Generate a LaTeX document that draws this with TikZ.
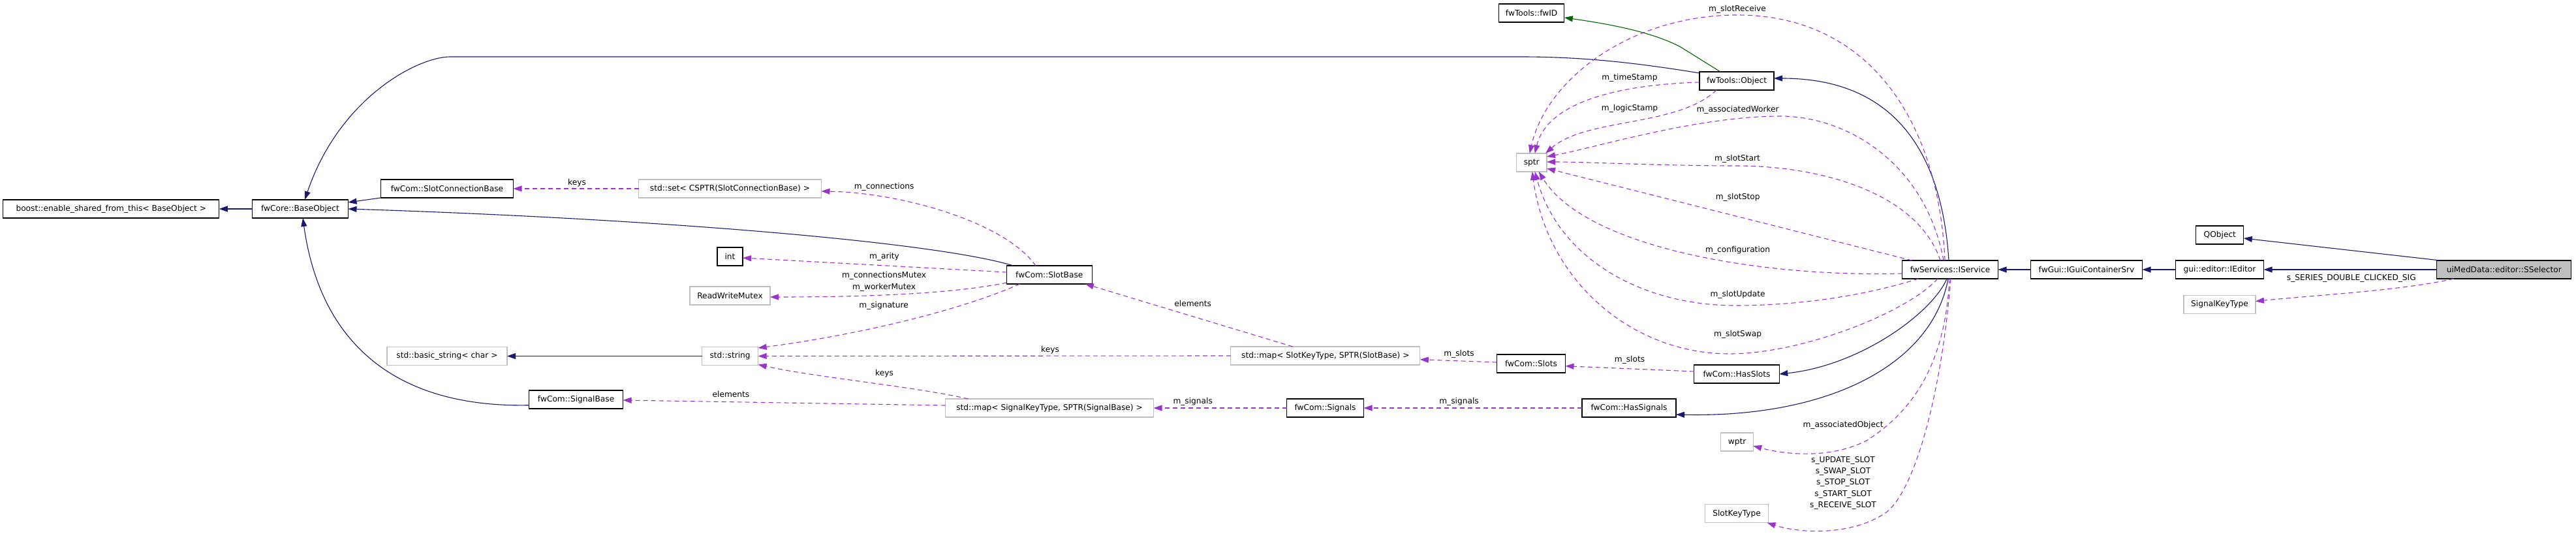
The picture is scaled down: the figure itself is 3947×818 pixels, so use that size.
\documentclass[tikz,border=0pt]{standalone}
\usepackage{fontspec}
\setmainfont{DejaVu Sans}
\usetikzlibrary{arrows.meta,calc}
\definecolor{eblue}{HTML}{191970}
\definecolor{epurple}{HTML}{9A32CD}
\definecolor{egreen}{HTML}{006400}
\definecolor{gborder}{HTML}{BFBFBF}
\definecolor{selgray}{HTML}{BFBFBF}
\newcommand\dxfont{\fontsize{12.2}{17.4}\selectfont}
\tikzset{
  box/.style={draw=black, line width=1.1pt, minimum height=28pt, inner sep=0pt, outer sep=0pt, font=\dxfont},
  gbox/.style={box, draw=gborder},
  inh/.style={draw=eblue, line width=1.1pt, -{Triangle[length=13pt,width=9pt]}},
  usedby/.style={draw=epurple, line width=1.1pt, dash pattern=on 7pt off 5pt, -{Triangle[length=13pt,width=9pt]}},
  tmpl/.style={draw=egreen, line width=1.1pt, -{Triangle[length=13pt,width=9pt]}},
  lbl/.style={inner sep=0pt, font=\dxfont, align=center}
}
\begin{document}
\begin{tikzpicture}[x=1pt,y=-1pt]
\useasboundingbox (0,0) rectangle (3947,818);
\fill[white] (0,0) rectangle (3947,818);

% nodes
\node[box, minimum width=331pt] (boost) at (170.3,320) {boost::enable\_shared\_from\_this< BaseObject >};
\node[box, minimum width=147pt] (base) at (460,320) {fwCore::BaseObject};
\node[box, minimum width=203pt] (sconn) at (685,289) {fwCom::SlotConnectionBase};
\node[gbox, minimum width=280pt] (setc) at (1118.5,289) {std::set< CSPTR(SlotConnectionBase) >};
\node[box, minimum width=39pt] (int) at (1118.5,393) {int};
\node[gbox, minimum width=123pt] (rwm) at (1118.5,453) {ReadWriteMutex};
\node[box, minimum width=130.5pt] (slotb) at (1607.8,421) {fwCom::SlotBase};
\node[gbox, minimum width=184pt] (bstr) at (685,545.5) {std::basic\_string< char >};
\node[gbox, minimum width=86pt] (str) at (1118.6,545.5) {std::string};
\node[box, minimum width=144pt] (sigb) at (882.6,612) {fwCom::SignalBase};
\node[gbox, minimum width=290pt] (mslot) at (2030.8,545) {std::map< SlotKeyType, SPTR(SlotBase) >};
\node[gbox, minimum width=319pt] (msig) at (1608,625) {std::map< SignalKeyType, SPTR(SignalBase) >};
\node[box, minimum width=105pt] (slots) at (2346,557) {fwCom::Slots};
\node[box, minimum width=118pt] (sigs) at (2030.5,625) {fwCom::Signals};
\node[box, minimum width=130.5pt] (hslots) at (2661,573) {fwCom::HasSlots};
\node[box, minimum width=144pt] (hsigs) at (2496,625) {fwCom::HasSignals};
\node[box, minimum width=100.5pt] (fwid) at (2346.6,20) {fwTools::fwID};
\node[box, minimum width=114pt] (obj) at (2661,124) {fwTools::Object};
\node[gbox, minimum width=46.6pt] (sptr) at (2346.7,249) {sptr};
\node[box, minimum width=147pt] (isrv) at (2988,413) {fwServices::IService};
\node[gbox, minimum width=49.5pt] (wptr) at (2661.5,677) {wptr};
\node[gbox, minimum width=97pt] (skt) at (2661,786.7) {SlotKeyType};
\node[box, minimum width=171pt] (igui) at (3197,413) {fwGui::IGuiContainerSrv};
\node[box, minimum width=135pt] (iedit) at (3401,413) {gui::editor::IEditor};
\node[box, minimum width=73pt] (qobj) at (3401.3,360) {QObject};
\node[gbox, minimum width=110pt] (sigkt) at (3401,466.5) {SignalKeyType};
\node[box, fill=selgray, minimum width=206pt] (sel) at (3836.8,413) {uiMedData::editor::SSelector};

% inheritance (blue)
\draw[inh] (base.west) -- (boost.east);
\draw[inh] (sconn.south west) -- ($(base.east)+(0,-10)$);
\draw[inh] ($(slotb.north west)+(10,0)$) .. controls (1430,370) and (1000,335) .. (base.east);
\draw[inh] ($(sigb.west)+(0,8.7)$) .. controls (600,625) and (490,520) .. ($(base.south)+(4,0)$);
\draw[inh] ($(obj.west)+(0,-12)$) .. controls (2500,95) and (2420,87) .. (2330,87) -- (690,87) .. controls (640,87) and (520,150) .. ($(base.north)+(7,0)$);
\draw[inh] ($(isrv.north)+(-2,0)$) .. controls (2975,230) and (2900,120) .. ($(obj.east)+(0,-4)$);
\draw[inh] ($(isrv.south)+(-5,0)$) .. controls (2960,480) and (2850,560) .. (hslots.east);
\draw[inh] ($(isrv.south)+(-3,0)$) .. controls (2960,560) and (2800,640) .. ($(hsigs.east)+(0,10)$);
\draw[inh] (igui.west) -- (isrv.east);
\draw[inh] (iedit.west) -- (igui.east);
\draw[inh] (sel.west) -- (iedit.east);
\draw[inh] ($(sel.north west)+(5,0)$) -- ($(qobj.east)+(0,5)$);
\draw[inh] (str.west) -- (bstr.east);

% template (green)
\draw[tmpl] ($(obj.north)+(-25,0)$) -- (2575,72) .. controls (2530,48) and (2460,36) .. ($(fwid.east)+(0,7)$);

% usage (purple dashed)
\draw[usedby] (setc.west) -- (sconn.east);
\draw[usedby] ($(slotb.north)+(-21,0)$) .. controls (1540,340) and (1380,295) .. ($(setc.east)+(0,4)$);
\draw[usedby] ($(slotb.west)+(0,-4)$) -- ($(int.east)+(0,2)$);
\draw[usedby] ($(slotb.south west)+(0,-2)$) .. controls (1450,452) and (1300,455) .. ($(rwm.east)+(0,2)$);
\draw[usedby] ($(slotb.south)+(-45,0)$) .. controls (1460,480) and (1300,515) .. ($(str.north east)+(0,1.5)$);
\draw[usedby] ($(mslot.north)+(-50,0)$) -- ($(slotb.south)+(55,0)$);
\draw[usedby] (mslot.west) -- (str.east);
\draw[usedby] ($(msig.north west)+(35,0)$) .. controls (1400,592) and (1250,578) .. ($(str.south east)+(0,-1)$);
\draw[usedby] ($(msig.west)+(0,-4)$) -- ($(sigb.east)+(0,1)$);
\draw[usedby] ($(slots.west)+(0,-2)$) -- ($(mslot.east)+(0,5.7)$);
\draw[usedby] ($(hslots.west)+(0,-4)$) -- ($(slots.east)+(0,3.7)$);
\draw[usedby] (sigs.west) -- (msig.east);
\draw[usedby] (hsigs.west) -- (sigs.east);

\draw[usedby] ($(isrv.north)+(-8,0)$) .. controls (2970,180) and (2860,23) .. (2662,23) .. controls (2500,23) and (2370,120) .. ($(sptr.north)+(-3,0)$);
\draw[usedby] ($(obj.west)+(0,2)$) .. controls (2470,130) and (2370,160) .. ($(sptr.north)+(5,0)$);
\draw[usedby] ($(obj.south)+(-31,0)$) .. controls (2570,195) and (2430,180) .. ($(sptr.north east)+(-2,0)$);
\draw[usedby] ($(isrv.north)+(-10,0)$) .. controls (2950,250) and (2830,178) .. (2728,178) .. controls (2600,178) and (2450,225) .. ($(sptr.east)+(0,-9)$);
\draw[usedby] ($(isrv.north)+(-15,0)$) .. controls (2940,300) and (2800,254) .. (2659,254) .. controls (2550,254) and (2430,248) .. ($(sptr.east)+(0,-1)$);
\draw[usedby] ($(isrv.north west)+(15,0)$) -- ($(sptr.east)+(0,9)$);
\draw[usedby] ($(isrv.west)+(0,6)$) .. controls (2700,425) and (2430,380) .. ($(sptr.south)+(11,0)$);
\draw[usedby] ($(isrv.south west)+(25,0)$) .. controls (2850,455) and (2750,468) .. (2659,468) .. controls (2520,468) and (2390,400) .. ($(sptr.south)+(5,0)$);
\draw[usedby] ($(isrv.south)+(-19,0)$) .. controls (2920,480) and (2760,542) .. (2650,542) .. controls (2500,542) and (2370,430) .. ($(sptr.south)+(1,0)$);
\draw[usedby] ($(isrv.south)+(-1,0)$) .. controls (2980,560) and (2930,630) .. (2860,675) .. controls (2800,705) and (2730,695) .. ($(wptr.east)+(0,6)$);
\draw[usedby] ($(isrv.south)+(1,0)$) .. controls (2975,600) and (2935,750) .. (2890,785) .. controls (2840,820) and (2760,818) .. ($(skt.south east)+(-2,0)$);
\draw[usedby] ($(sel.south west)+(26,0)$) .. controls (3680,445) and (3550,452) .. ($(sigkt.east)+(0,-5)$);

% labels
\node[lbl] (l1) at (884,280) {keys};
\node[lbl] (l2) at (1354.6,286.7) {m\_connections};
\node[lbl] (l3) at (1355,393) {m\_arity};
\node[lbl] (l4) at (1354.6,431.5) {m\_connectionsMutex\\m\_workerMutex};
\node[lbl] (l5) at (1354,468) {m\_signature};
\node[lbl] (l6) at (1120,603.7) {elements};
\node[lbl] (l7) at (1355,572) {keys};
\node[lbl] (l8) at (1609,535.7) {keys};
\node[lbl] (l9) at (1827.7,465) {elements};
\node[lbl] (l10) at (1827.7,615.7) {m\_signals};
\node[lbl] (l11) at (2235.5,615.7) {m\_signals};
\node[lbl] (l12) at (2235.5,542.7) {m\_slots};
\node[lbl] (l13) at (2497,551.7) {m\_slots};
\node[lbl] (l14) at (2662,14.7) {m\_slotReceive};
\node[lbl] (l15) at (2497,119.3) {m\_timeStamp};
\node[lbl] (l16) at (2497,166.7) {m\_logicStamp};
\node[lbl] (l17) at (2662.6,168.7) {m\_associatedWorker};
\node[lbl] (l18) at (2662,243.7) {m\_slotStart};
\node[lbl] (l19) at (2662.6,302.7) {m\_slotStop};
\node[lbl] (l20) at (2662.6,383.7) {m\_configuration};
\node[lbl] (l21) at (2662.6,451.7) {m\_slotUpdate};
\node[lbl] (l22) at (2662.6,512.7) {m\_slotSwap};
\node[lbl] (l23) at (2824,651.3) {m\_associatedObject};
\node[lbl] (l24) at (2824,739.9) {s\_UPDATE\_SLOT\\s\_SWAP\_SLOT\\s\_STOP\_SLOT\\s\_START\_SLOT\\s\_RECEIVE\_SLOT};
\node[lbl] (l25) at (3602.8,426.7) {s\_SERIES\_DOUBLE\_CLICKED\_SIG};
\end{tikzpicture}
\end{document}
